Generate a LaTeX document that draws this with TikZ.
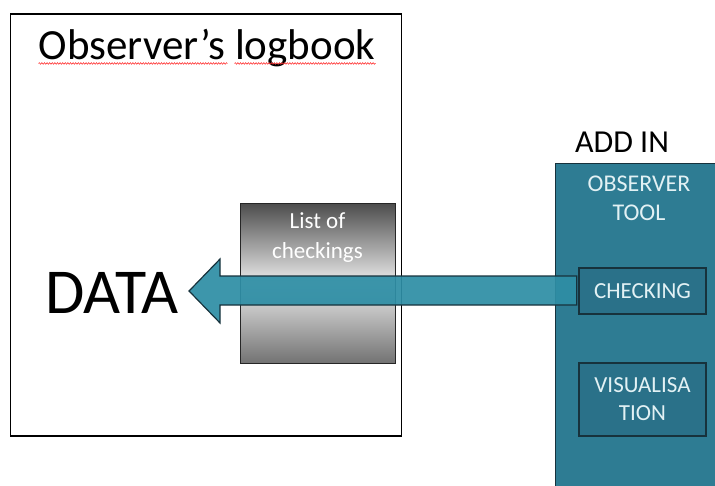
\documentclass[tikz,border=0pt]{standalone}
\usepackage{fontspec}
\setmainfont{Carlito}
\usetikzlibrary{positioning,calc,decorations.pathmorphing}

\definecolor{panelteal}{HTML}{2E7C93}
\definecolor{boxteal}{HTML}{2A7189}
\definecolor{arrowteal}{HTML}{2E8EA5}
\definecolor{darkteal}{HTML}{17323C}
\definecolor{paletext}{HTML}{E2F1F4}

\begin{document}
\begin{tikzpicture}[x=1pt, y=-1pt,
	frame/.style = {rectangle, draw=black, line width=1.2pt, inner sep=0pt},
	greybox/.style = {rectangle, draw=black!85, line width=1pt, inner sep=0pt,
		top color=black!70, bottom color=black!55, middle color=black!8},
	panel/.style = {rectangle, draw=darkteal, line width=1.2pt, fill=panelteal,
		inner sep=0pt},
	toolbox/.style = {rectangle, draw=darkteal, line width=1.4pt, fill=boxteal,
		inner sep=0pt, minimum width=127pt, text=paletext, align=center,
		font=\fontsize{23}{28}\selectfont},
	squiggle/.style = {draw=red!80, line width=0.6pt,
		decorate, decoration={snake, amplitude=0.8pt, segment length=2.6pt}},
	]
	\clip (0,0) rectangle (715,485);

	% logbook
	\node[frame, minimum width=391pt, minimum height=422pt] (book) at (206,225) {};
	\node[inner sep=0pt, font=\fontsize{43}{48}\selectfont] (title) at (207,48) {Observer’s logbook};
	\draw[squiggle] ($(title.base west)+(0,4)$) -- ++(189,0);
	\draw[squiggle] ($(title.base west)+(196,4)$) -- ($(title.base east)+(0,4)$);
	\node[inner sep=0pt, font=\fontsize{64}{70}\selectfont] (data) at (112,293) {DATA};

	% add in
	\node[panel, minimum width=170pt, minimum height=330pt, anchor=north west] (addin) at (555,163) {};
	\node[inner sep=0pt, font=\fontsize{32}{36}\selectfont] (addlabel) at (622,142) {ADD IN};
	\node[inner sep=0pt, align=center, text=paletext, font=\fontsize{24}{29}\selectfont] (tool) at (639,198) {OBSERVER\\TOOL};
	\node[toolbox, minimum height=46pt] (chk) at (642.5,291) {CHECKING};
	\node[toolbox, minimum height=73pt] (vis) at (642.5,399.5) {VISUALISA\\TION};

	% checkings list
	\node[greybox, minimum width=155pt, minimum height=160pt] (list) at (317.5,283) {};
	\node[inner sep=0pt, align=center, text=white, font=\fontsize{23}{30}\selectfont,
		below=10pt of list.north] (listtxt) {List of\\checkings};

	% arrow
	\coordinate (tip) at ($(chk.west -| data.east)+(10,0)$);
	\draw[draw=darkteal, line width=1.2pt, fill=arrowteal, fill opacity=0.93, line join=miter]
		($(chk.west)+(-1.5,-15)$) -- ($(tip)+(31,-15)$) -- ($(tip)+(31,-32)$) -- (tip)
		-- ($(tip)+(31,32)$) -- ($(tip)+(31,14)$) -- ($(chk.west)+(-1.5,14)$) -- cycle;
\end{tikzpicture}
\end{document}
